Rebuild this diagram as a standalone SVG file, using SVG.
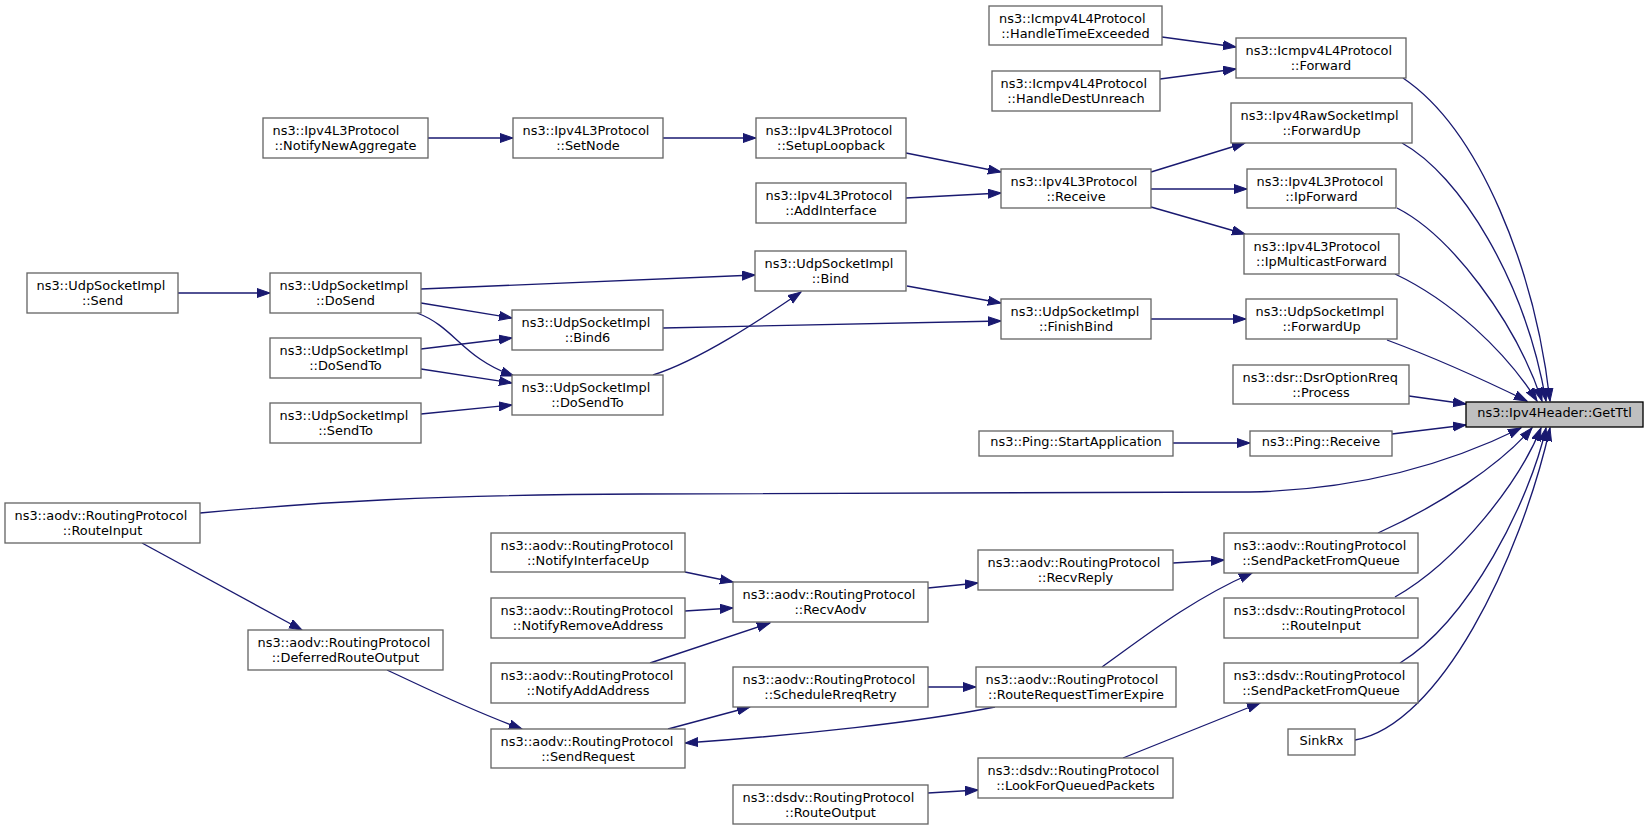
<svg xmlns="http://www.w3.org/2000/svg" width="1648" height="831" viewBox="0 0 1648 831">
<style>
.n rect{fill:#ffffff;stroke:#666666;stroke-width:1.33}
.n.hl rect{fill:#bfbfbf;stroke:#000000}
.n text{font-family:"DejaVu Sans","Liberation Sans",sans-serif;font-size:12.9px;fill:#000000}
.s{text-anchor:start}
.m{text-anchor:middle}
#edges path{fill:none;stroke:#191970;stroke-width:1.33;marker-end:url(#ah)}
</style>
<defs>
<marker id="ah" markerWidth="14" markerHeight="11" refX="13" refY="5" orient="auto" markerUnits="userSpaceOnUse">
<path d="M0,0.5 L13,5 L0,9.5 Z" fill="#191970" stroke="#191970" stroke-width="1"/>
</marker>
</defs>
<rect width="1648" height="831" fill="#ffffff"/>
<g id="edges">
<path d="M1162,37 L1236,47"/>
<path d="M1160,79 L1236,69"/>
<path d="M1403,78 C1480,130 1535,270 1550,401"/>
<path d="M1402,143 C1460,175 1525,280 1546,401"/>
<path d="M1397,208 C1450,235 1515,320 1542,401"/>
<path d="M1395,274 C1450,300 1505,350 1537,401"/>
<path d="M1387,340 C1430,356 1480,378 1527,401"/>
<path d="M1409,396 L1466,404"/>
<path d="M1392,434 L1466,425"/>
<path d="M200,513 C320,502 430,495 640,494 C900,493 1150,494 1250,492 C1350,490 1440,468 1521,428"/>
<path d="M1378,533 C1440,505 1500,465 1532,428"/>
<path d="M1395,597 C1460,560 1520,480 1541,428"/>
<path d="M1400,663 C1470,620 1530,500 1546,428"/>
<path d="M1355,740 C1440,725 1520,560 1550,428"/>
<path d="M428,138 L513,138"/>
<path d="M663,138 L756,138"/>
<path d="M906,153 L1001,172"/>
<path d="M906,198 L1001,193"/>
<path d="M1151,172 L1245,143"/>
<path d="M1151,189 L1247,189"/>
<path d="M1151,207 L1245,234"/>
<path d="M178,293 L270,293"/>
<path d="M421,289 L755,275"/>
<path d="M421,303 L512,318"/>
<path d="M417,313 C455,327 462,358 514,376"/>
<path d="M421,349 L512,338"/>
<path d="M421,369 L512,383"/>
<path d="M421,414 L512,405"/>
<path d="M907,286 L1001,303"/>
<path d="M663,328 L1001,321"/>
<path d="M653,375 C700,360 760,320 801,292"/>
<path d="M1151,319 L1246,319"/>
<path d="M1173,443 L1250,443"/>
<path d="M142,543 L302,630"/>
<path d="M387,670 C430,690 470,710 522,729"/>
<path d="M685,572 L733,582"/>
<path d="M685,611 L733,608"/>
<path d="M650,663 L770,623"/>
<path d="M928,588 L978,583"/>
<path d="M1173,563 L1224,560"/>
<path d="M668,729 L750,707"/>
<path d="M928,687 L976,687"/>
<path d="M995,707 C920,722 800,735 685,743"/>
<path d="M1102,667 C1140,640 1190,600 1252,573"/>
<path d="M1123,758 L1260,703"/>
<path d="M928,793 L978,790"/>
</g>
<g id="GetTtl" class="n hl"><rect x="1466" y="402" width="177" height="25"/><text class="m" x="1554.5" y="417">ns3::Ipv4Header::GetTtl</text></g>
<g id="Forward" class="n"><rect x="1236" y="38" width="170" height="40"/><text class="s" x="1245.5" y="54.5">ns3::Icmpv4L4Protocol</text><text class="m" x="1321" y="69.5">::Forward</text></g>
<g id="HandleTimeExceeded" class="n"><rect x="989" y="6" width="173" height="39"/><text class="s" x="999" y="22.5">ns3::Icmpv4L4Protocol</text><text class="m" x="1075.5" y="37.5">::HandleTimeExceeded</text></g>
<g id="HandleDestUnreach" class="n"><rect x="992" y="71" width="168" height="40"/><text class="s" x="1000.5" y="87.5">ns3::Icmpv4L4Protocol</text><text class="m" x="1076" y="102.5">::HandleDestUnreach</text></g>
<g id="RawForwardUp" class="n"><rect x="1231" y="103" width="181" height="40"/><text class="s" x="1240.5" y="119.5">ns3::Ipv4RawSocketImpl</text><text class="m" x="1321.5" y="134.5">::ForwardUp</text></g>
<g id="IpForward" class="n"><rect x="1247" y="169" width="149" height="39"/><text class="s" x="1256.5" y="185.5">ns3::Ipv4L3Protocol</text><text class="m" x="1321.5" y="200.5">::IpForward</text></g>
<g id="IpMulticastForward" class="n"><rect x="1244" y="234" width="155" height="40"/><text class="s" x="1253.5" y="250.5">ns3::Ipv4L3Protocol</text><text class="m" x="1321.5" y="265.5">::IpMulticastForward</text></g>
<g id="UdpForwardUp" class="n"><rect x="1246" y="299" width="151" height="40"/><text class="s" x="1255.5" y="315.5">ns3::UdpSocketImpl</text><text class="m" x="1321.5" y="330.5">::ForwardUp</text></g>
<g id="Process" class="n"><rect x="1233" y="365" width="176" height="39"/><text class="s" x="1242.5" y="381.5">ns3::dsr::DsrOptionRreq</text><text class="m" x="1321" y="396.5">::Process</text></g>
<g id="PingReceive" class="n"><rect x="1250" y="431" width="142" height="25"/><text class="m" x="1321" y="446">ns3::Ping::Receive</text></g>
<g id="AodvSendPacketFromQueue" class="n"><rect x="1224" y="533" width="194" height="40"/><text class="s" x="1233.5" y="549.5">ns3::aodv::RoutingProtocol</text><text class="m" x="1321" y="564.5">::SendPacketFromQueue</text></g>
<g id="DsdvRouteInput" class="n"><rect x="1224" y="598" width="194" height="40"/><text class="s" x="1233.5" y="614.5">ns3::dsdv::RoutingProtocol</text><text class="m" x="1321" y="629.5">::RouteInput</text></g>
<g id="DsdvSendPacketFromQueue" class="n"><rect x="1224" y="663" width="194" height="40"/><text class="s" x="1233.5" y="679.5">ns3::dsdv::RoutingProtocol</text><text class="m" x="1321" y="694.5">::SendPacketFromQueue</text></g>
<g id="SinkRx" class="n"><rect x="1288" y="729" width="67" height="26"/><text class="m" x="1321.5" y="744.5">SinkRx</text></g>
<g id="Receive" class="n"><rect x="1001" y="169" width="150" height="39"/><text class="s" x="1010.5" y="185.5">ns3::Ipv4L3Protocol</text><text class="m" x="1076" y="200.5">::Receive</text></g>
<g id="FinishBind" class="n"><rect x="1001" y="299" width="150" height="40"/><text class="s" x="1010.5" y="315.5">ns3::UdpSocketImpl</text><text class="m" x="1076" y="330.5">::FinishBind</text></g>
<g id="StartApplication" class="n"><rect x="979" y="431" width="194" height="25"/><text class="m" x="1076" y="446">ns3::Ping::StartApplication</text></g>
<g id="RecvReply" class="n"><rect x="978" y="550" width="195" height="40"/><text class="s" x="987.5" y="566.5">ns3::aodv::RoutingProtocol</text><text class="m" x="1075.5" y="581.5">::RecvReply</text></g>
<g id="RouteRequestTimerExpire" class="n"><rect x="976" y="667" width="200" height="40"/><text class="s" x="985.5" y="683.5">ns3::aodv::RoutingProtocol</text><text class="m" x="1076" y="698.5">::RouteRequestTimerExpire</text></g>
<g id="LookForQueuedPackets" class="n"><rect x="978" y="758" width="195" height="40"/><text class="s" x="987.5" y="774.5">ns3::dsdv::RoutingProtocol</text><text class="m" x="1075.5" y="789.5">::LookForQueuedPackets</text></g>
<g id="SetupLoopback" class="n"><rect x="756" y="118" width="150" height="40"/><text class="s" x="765.5" y="134.5">ns3::Ipv4L3Protocol</text><text class="m" x="831" y="149.5">::SetupLoopback</text></g>
<g id="AddInterface" class="n"><rect x="756" y="183" width="150" height="40"/><text class="s" x="765.5" y="199.5">ns3::Ipv4L3Protocol</text><text class="m" x="831" y="214.5">::AddInterface</text></g>
<g id="Bind" class="n"><rect x="755" y="251" width="151" height="40"/><text class="s" x="764.5" y="267.5">ns3::UdpSocketImpl</text><text class="m" x="830.5" y="282.5">::Bind</text></g>
<g id="RecvAodv" class="n"><rect x="733" y="582" width="195" height="40"/><text class="s" x="742.5" y="598.5">ns3::aodv::RoutingProtocol</text><text class="m" x="830.5" y="613.5">::RecvAodv</text></g>
<g id="ScheduleRreqRetry" class="n"><rect x="733" y="667" width="195" height="40"/><text class="s" x="742.5" y="683.5">ns3::aodv::RoutingProtocol</text><text class="m" x="830.5" y="698.5">::ScheduleRreqRetry</text></g>
<g id="DsdvRouteOutput" class="n"><rect x="733" y="785" width="195" height="39"/><text class="s" x="742.5" y="801.5">ns3::dsdv::RoutingProtocol</text><text class="m" x="830.5" y="816.5">::RouteOutput</text></g>
<g id="SetNode" class="n"><rect x="513" y="118" width="150" height="40"/><text class="s" x="522.5" y="134.5">ns3::Ipv4L3Protocol</text><text class="m" x="588" y="149.5">::SetNode</text></g>
<g id="Bind6" class="n"><rect x="512" y="310" width="151" height="40"/><text class="s" x="521.5" y="326.5">ns3::UdpSocketImpl</text><text class="m" x="587.5" y="341.5">::Bind6</text></g>
<g id="DoSendTo2" class="n"><rect x="512" y="375" width="151" height="40"/><text class="s" x="521.5" y="391.5">ns3::UdpSocketImpl</text><text class="m" x="587.5" y="406.5">::DoSendTo</text></g>
<g id="NotifyInterfaceUp" class="n"><rect x="491" y="533" width="194" height="39"/><text class="s" x="500.5" y="549.5">ns3::aodv::RoutingProtocol</text><text class="m" x="588" y="564.5">::NotifyInterfaceUp</text></g>
<g id="NotifyRemoveAddress" class="n"><rect x="491" y="598" width="194" height="40"/><text class="s" x="500.5" y="614.5">ns3::aodv::RoutingProtocol</text><text class="m" x="588" y="629.5">::NotifyRemoveAddress</text></g>
<g id="NotifyAddAddress" class="n"><rect x="491" y="663" width="194" height="40"/><text class="s" x="500.5" y="679.5">ns3::aodv::RoutingProtocol</text><text class="m" x="588" y="694.5">::NotifyAddAddress</text></g>
<g id="SendRequest" class="n"><rect x="491" y="729" width="194" height="39"/><text class="s" x="500.5" y="745.5">ns3::aodv::RoutingProtocol</text><text class="m" x="588" y="760.5">::SendRequest</text></g>
<g id="NotifyNewAggregate" class="n"><rect x="263" y="118" width="165" height="40"/><text class="s" x="272.5" y="134.5">ns3::Ipv4L3Protocol</text><text class="m" x="345.5" y="149.5">::NotifyNewAggregate</text></g>
<g id="DoSend" class="n"><rect x="270" y="273" width="151" height="40"/><text class="s" x="279.5" y="289.5">ns3::UdpSocketImpl</text><text class="m" x="345.5" y="304.5">::DoSend</text></g>
<g id="DoSendTo1" class="n"><rect x="270" y="338" width="151" height="40"/><text class="s" x="279.5" y="354.5">ns3::UdpSocketImpl</text><text class="m" x="345.5" y="369.5">::DoSendTo</text></g>
<g id="SendTo" class="n"><rect x="270" y="403" width="151" height="40"/><text class="s" x="279.5" y="419.5">ns3::UdpSocketImpl</text><text class="m" x="345.5" y="434.5">::SendTo</text></g>
<g id="DeferredRouteOutput" class="n"><rect x="248" y="630" width="195" height="40"/><text class="s" x="257.5" y="646.5">ns3::aodv::RoutingProtocol</text><text class="m" x="345.5" y="661.5">::DeferredRouteOutput</text></g>
<g id="Send" class="n"><rect x="27" y="273" width="151" height="40"/><text class="s" x="36.5" y="289.5">ns3::UdpSocketImpl</text><text class="m" x="102.5" y="304.5">::Send</text></g>
<g id="AodvRouteInput" class="n"><rect x="5" y="503" width="195" height="40"/><text class="s" x="14.5" y="519.5">ns3::aodv::RoutingProtocol</text><text class="m" x="102.5" y="534.5">::RouteInput</text></g>
</svg>
